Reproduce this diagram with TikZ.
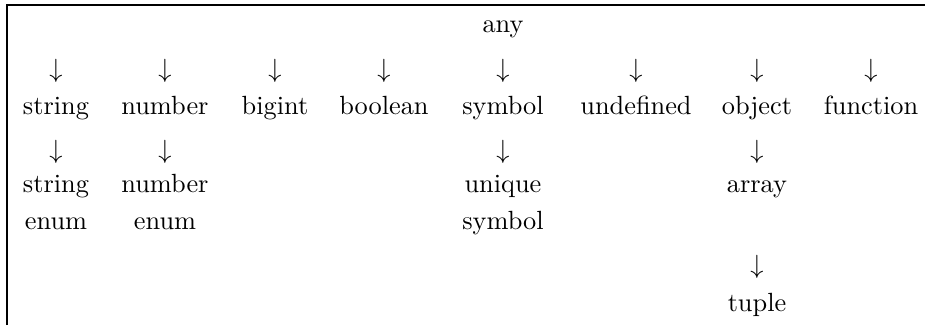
\documentclass[tikz,border=0pt]{standalone}
\begin{document}
\begin{tikzpicture}[x=0.38pt,y=-0.38pt,
  lbl/.style={anchor=base,inner sep=0pt,font=\normalsize},
  arr/.style={anchor=base,inner sep=0pt}]
\useasboundingbox (0,0) rectangle (925,325);
\draw[line width=0.5pt] (7,325) -- (7,5) -- (925,5);
% columns
\def\cA{56}\def\cB{165}\def\cC{275}\def\cD{384}\def\cE{503}\def\cF{636}\def\cG{757}\def\cH{871}
\node[lbl] (any) at (\cE,33) {any};
% arrows row 1
\node[arr] (a1) at (\cA,77) {$\downarrow$};
\node[arr] (a2) at (\cB,77) {$\downarrow$};
\node[arr] (a3) at (\cC,77) {$\downarrow$};
\node[arr] (a4) at (\cD,77) {$\downarrow$};
\node[arr] (a5) at (\cE,77) {$\downarrow$};
\node[arr] (a6) at (\cF,77) {$\downarrow$};
\node[arr] (a7) at (\cG,77) {$\downarrow$};
\node[arr] (a8) at (\cH,77) {$\downarrow$};
% types row
\node[lbl] (string) at (\cA,114) {string};
\node[lbl] (number) at (\cB,114) {number};
\node[lbl] (bigint) at (\cC,114) {bigint};
\node[lbl] (boolean) at (\cD,114) {boolean};
\node[lbl] (symbol) at (\cE,114) {symbol};
\node[lbl] (undefined) at (\cF,114) {undefined};
\node[lbl] (object) at (\cG,114) {object};
\node[lbl] (function) at (\cH,114) {function};
% arrows row 2
\node[arr] (b1) at (\cA,158) {$\downarrow$};
\node[arr] (b2) at (\cB,158) {$\downarrow$};
\node[arr] (b5) at (\cE,158) {$\downarrow$};
\node[arr] (b7) at (\cG,158) {$\downarrow$};
% subtypes
\node[lbl] (senum1) at (\cA,192) {string};
\node[lbl] (senum2) at (\cA,229) {enum};
\node[lbl] (nenum1) at (\cB,192) {number};
\node[lbl] (nenum2) at (\cB,229) {enum};
\node[lbl] (usym1) at (\cE,192) {unique};
\node[lbl] (usym2) at (\cE,229) {symbol};
\node[lbl] (array) at (\cG,192) {array};
\node[arr] (c7) at (\cG,273) {$\downarrow$};
\node[lbl] (tuple) at (\cG,311) {tuple};
\end{tikzpicture}
\end{document}
